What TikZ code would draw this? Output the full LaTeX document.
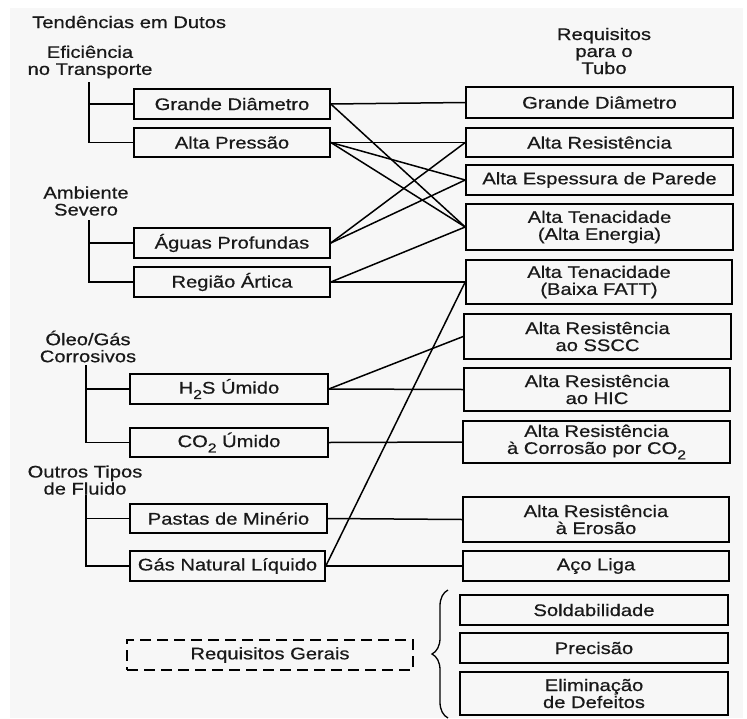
\documentclass[tikz,border=0pt]{standalone}
\usepackage{fontspec}
\setmainfont{Liberation Sans}[FakeStretch=1.2,FakeBold=0.6]
\usetikzlibrary{decorations.pathreplacing}
\newcommand\subtwo{\raisebox{-0.32em}{\fontsize{13}{13}\selectfont 2}}
\begin{document}
\begin{tikzpicture}[x=1pt,y=-1pt,
  txt/.style={inner sep=0pt, align=center, font=\fontsize{16.8}{17}\selectfont, text=black!90},
  box/.style={txt, draw, line width=1.6pt},
  dbox/.style={box, dashed, dash pattern=on 11pt off 6pt},
  link/.style={line width=1.5pt},
  tree/.style={line width=1.5pt}]
\useasboundingbox (0,0) rectangle (747,718);
\fill[black!3] (10,8) rectangle (743,718);

% titles
\node[txt, anchor=west] (title) at (32,22) {Tendências em Dutos};
\node[txt] (req) at (604,51) {Requisitos\\para o\\Tubo};

% group labels
\node[txt] (eff) at (90,62) {Eficiência\\no Transporte};
\node[txt] (amb) at (86,201) {Ambiente\\Severo};
\node[txt] (oleo) at (88,346.5) {Óleo/Gás\\Corrosivos};
\node[txt] (outros) at (85,480) {Outros Tipos\\de Fluido};

\coordinate (t1) at (89,82);
\coordinate (t2) at (89,220);
\coordinate (t3) at (86,365);
\coordinate (t4) at (86,495);

% left boxes
\node[box, minimum width=196pt, minimum height=30pt] (lGD)  at (232,104)   {Grande Diâmetro};
\node[box, minimum width=196pt, minimum height=29pt] (lAP)  at (232,142.5) {Alta Pressão};
\node[box, minimum width=196pt, minimum height=30pt] (lAgP) at (232,243)   {Águas Profundas};
\node[box, minimum width=196pt, minimum height=30pt] (lRA)  at (232,282)   {Região Ártica};
\node[box, minimum width=198pt, minimum height=30pt] (lH2S) at (229,389)   {H\subtwo S Úmido};
\node[box, minimum width=198pt, minimum height=29pt] (lCO2) at (229,442.5) {CO\subtwo\ Úmido};
\node[box, minimum width=197pt, minimum height=29pt] (lPas) at (228.5,518.5) {Pastas de Minério};
\node[box, minimum width=195pt, minimum height=30pt] (lGas) at (227.5,566) {Gás Natural Líquido};
\node[dbox, minimum width=286pt, minimum height=30pt] (lReq) at (270,655) {Requisitos Gerais};

% right boxes
\node[box, minimum width=267pt, minimum height=31pt] (rGD)  at (599.5,102.5) {Grande Diâmetro};
\node[box, minimum width=267pt, minimum height=29pt] (rAR)  at (599.5,142.5) {Alta Resistência};
\node[box, minimum width=267pt, minimum height=30pt] (rAE)  at (599.5,180)   {Alta Espessura de Parede};
\node[box, minimum width=267pt, minimum height=46pt] (rTE)  at (599.5,227)   {Alta Tenacidade\\(Alta Energia)};
\node[box, minimum width=266pt, minimum height=44pt] (rTF)  at (599,282)     {Alta Tenacidade\\(Baixa FATT)};
\node[box, minimum width=267pt, minimum height=45pt] (rSS)  at (597.5,336.5) {Alta Resistência\\ao SSCC};
\node[box, minimum width=266pt, minimum height=43pt] (rHIC) at (597,389.5)   {Alta Resistência\\ao HIC};
\node[box, minimum width=267pt, minimum height=42pt] (rCO2) at (596.5,442)   {Alta Resistência\\à Corrosão por CO\subtwo};
\node[box, minimum width=266pt, minimum height=45pt] (rEr)  at (596,519.5)   {Alta Resistência\\à Erosão};
\node[box, minimum width=266pt, minimum height=30pt] (rAco) at (596,566)     {Aço Liga};
\node[box, minimum width=268pt, minimum height=30pt] (rSol) at (594,610)     {Soldabilidade};
\node[box, minimum width=268pt, minimum height=30pt] (rPre) at (594,648)     {Precisão};
\node[box, minimum width=268pt, minimum height=43pt] (rEli) at (594,693.5)   {Eliminação\\de Defeitos};

% trees
\draw[tree] (t1) |- (lAP.west);
\draw[tree] (t1 |- lGD.west) -- (lGD.west);
\draw[tree] (t2) |- (lRA.west);
\draw[tree] (t2 |- lAgP.west) -- (lAgP.west);
\draw[tree] (t3) |- (lCO2.west);
\draw[tree] (t3 |- lH2S.west) -- (lH2S.west);
\draw[tree] (t4) |- (lGas.west);
\draw[tree] (t4 |- lPas.west) -- (lPas.west);

% links
\draw[link] (lGD.east) -- (rGD.west);
\draw[link] (lGD.east) -- (rTE.west);
\draw[link] (lAP.east) -- (rAR.west);
\draw[link] (lAP.east) -- (rAE.west);
\draw[link] (lAP.east) -- (rTE.west);
\draw[link] (lAgP.east) -- (rAR.west);
\draw[link] (lAgP.east) -- (rAE.west);
\draw[link] (lRA.east) -- (rTE.west);
\draw[link] (lRA.east) -- (rTF.west);
\draw[link] (lH2S.east) -- (rSS.west);
\draw[link] (lH2S.east) -- (rHIC.west);
\draw[link] (lCO2.east) -- (rCO2.west);
\draw[link] (lPas.east) -- (rEr.west);
\draw[link] (lGas.east) -- (rAco.west);
\draw[link] (lGas.east) -- (rTF.west);

% brace
\coordinate (bTop) at (448,590);
\coordinate (bBot) at (448,718);
\draw[line width=1.3pt, decorate, decoration={brace, amplitude=16pt}] (bBot) -- (bTop);
\end{tikzpicture}
\end{document}
